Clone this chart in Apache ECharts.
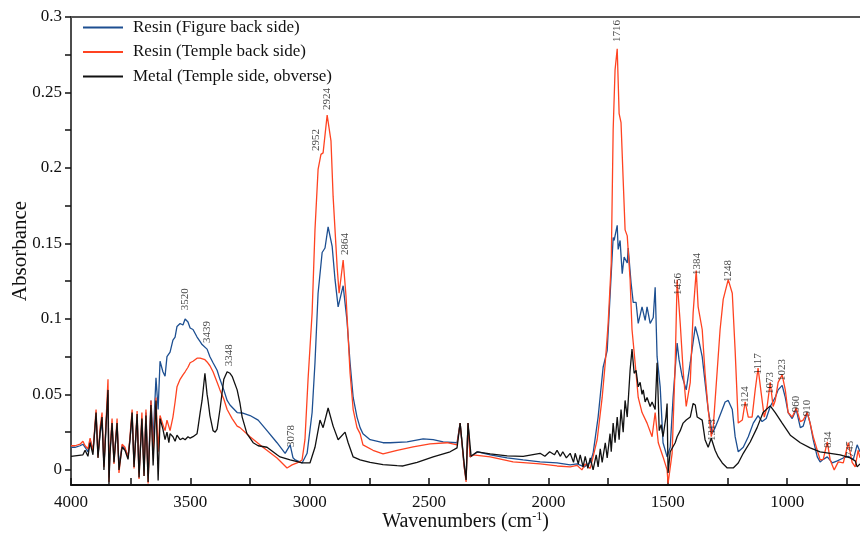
<!DOCTYPE html>
<html>
<head>
<meta charset="utf-8">
<script src="https://cdn.jsdelivr.net/npm/echarts@6/dist/echarts.min.js"></script>
<style>
  html, body { margin: 0; padding: 0; background: #fff; }
  #chart { width: 860px; height: 539px; }
</style>
</head>
<body>
<div id="chart"></div>
<script>
// series names (legend order)
var seriesNames = ['Resin (Figure back side)', 'Resin (Temple back side)', 'Metal (Temple side, obverse)'];

// [wavenumber, absorbance]
var resinFigure = [
  [4000,0.015],[3983,0.015],[3962,0.016],[3950,0.017],[3941,0.015],[3929,0.012],[3920,0.020],[3908,0.013],
  [3895,0.036],[3887,0.010],[3878,0.024],[3870,0.033],[3862,0.003],[3853,0.030],[3845,0.050],[3841,-0.005],
  [3837,0.012],[3828,0.030],[3820,0.007],[3807,0.030],[3799,0.003],[3786,0.016],[3774,0.014],[3761,0.009],
  [3753,0.020],[3744,0.036],[3736,0.004],[3723,0.035],[3715,-0.002],[3703,0.033],[3694,0.000],[3686,0.038],
  [3677,-0.004],[3665,0.046],[3656,0.020],[3644,0.061],[3635,0.040],[3627,0.072],[3615,0.065],[3606,0.062],
  [3598,0.075],[3585,0.078],[3573,0.086],[3564,0.088],[3556,0.095],[3543,0.097],[3531,0.096],[3522,0.100],
  [3510,0.098],[3501,0.094],[3489,0.093],[3472,0.088],[3459,0.085],[3451,0.083],[3430,0.080],[3418,0.075],
  [3405,0.071],[3388,0.066],[3376,0.060],[3360,0.053],[3346,0.046],[3334,0.043],[3304,0.038],[3283,0.0377],
  [3250,0.036],[3216,0.033],[3179,0.026],[3137,0.018],[3103,0.011],[3082,0.0166],[3070,0.008],[3061,0.0066],
  [3032,0.0046],[3011,0.011],[2990,0.038],[2978,0.071],[2965,0.117],[2948,0.144],[2936,0.147],[2923,0.161],
  [2906,0.148],[2894,0.126],[2881,0.108],[2860,0.122],[2844,0.099],[2831,0.071],[2818,0.048],[2802,0.035],
  [2789,0.028],[2777,0.024],[2747,0.020],[2693,0.018],[2663,0.018],[2592,0.0185],[2525,0.0205],[2483,0.020],
  [2441,0.0185],[2383,0.018],[2370,0.031],[2353,0.002],[2345,-0.006],[2337,0.031],[2328,0.0086],[2316,0.0099],
  [2295,0.012],[2244,0.0099],[2173,0.0079],[2106,0.0066],[2035,0.0053],[1964,0.0046],[1909,0.0033],[1880,0.004],
  [1850,0.002],[1825,0.005],[1813,0.011],[1792,0.035],[1771,0.068],[1754,0.079],[1742,0.115],[1729,0.154],
  [1725,0.152],[1712,0.162],[1708,0.146],[1700,0.152],[1691,0.130],[1683,0.141],[1670,0.137],[1666,0.147],
  [1654,0.124],[1645,0.111],[1633,0.111],[1624,0.097],[1608,0.108],[1595,0.099],[1587,0.108],[1574,0.097],
  [1561,0.101],[1553,0.121],[1545,0.075],[1532,0.055],[1520,0.018],[1503,0.0086],[1490,0.015],[1478,0.048],
  [1461,0.084],[1453,0.073],[1440,0.062],[1423,0.053],[1406,0.071],[1385,0.095],[1373,0.088],[1356,0.075],
  [1344,0.058],[1331,0.040],[1314,0.024],[1302,0.028],[1289,0.033],[1272,0.040],[1260,0.045],[1247,0.046],
  [1230,0.040],[1218,0.022],[1205,0.012],[1184,0.015],[1163,0.022],[1142,0.031],[1122,0.036],[1105,0.032],
  [1088,0.034],[1071,0.042],[1050,0.048],[1038,0.053],[1021,0.056],[1008,0.048],[996,0.038],[979,0.034],
  [962,0.040],[945,0.028],[933,0.029],[916,0.038],[904,0.031],[891,0.020],[874,0.0086],[862,0.0053],
  [849,0.007],[832,0.0086],[811,0.0046],[790,0.006],[765,0.0079],[744,0.009],[723,0.007],[707,0.0166],[695,0.012]
];

var resinTemple = [
  [4000,0.016],[3983,0.016],[3962,0.017],[3950,0.019],[3941,0.016],[3929,0.014],[3920,0.021],[3908,0.012],
  [3895,0.040],[3887,0.008],[3878,0.028],[3870,0.038],[3862,0.002],[3853,0.033],[3845,0.060],[3841,-0.008],
  [3837,0.012],[3828,0.034],[3820,0.004],[3807,0.034],[3799,-0.002],[3786,0.017],[3774,0.015],[3761,0.008],
  [3753,0.022],[3744,0.040],[3736,0.001],[3723,0.039],[3715,-0.006],[3703,0.038],[3694,-0.004],[3686,0.040],
  [3677,-0.009],[3665,0.046],[3656,0.010],[3644,0.048],[3635,0.012],[3627,0.036],[3615,0.030],[3606,0.026],
  [3598,0.033],[3585,0.026],[3573,0.035],[3564,0.045],[3556,0.055],[3543,0.060],[3531,0.063],[3522,0.065],
  [3510,0.068],[3501,0.071],[3489,0.072],[3472,0.074],[3459,0.074],[3451,0.074],[3439,0.073],[3430,0.0715],
  [3418,0.069],[3405,0.065],[3388,0.058],[3376,0.053],[3360,0.047],[3346,0.040],[3325,0.034],[3304,0.029],
  [3292,0.028],[3250,0.022],[3196,0.015],[3137,0.0079],[3095,0.0013],[3074,0.0033],[3053,0.0046],[3032,0.0066],
  [3020,0.020],[3007,0.060],[2990,0.104],[2978,0.159],[2965,0.199],[2953,0.209],[2944,0.210],[2927,0.235],
  [2911,0.218],[2902,0.181],[2885,0.134],[2877,0.117],[2860,0.139],[2848,0.115],[2831,0.064],[2818,0.040],
  [2802,0.028],[2789,0.024],[2777,0.0166],[2735,0.013],[2693,0.0106],[2634,0.013],[2567,0.0152],[2496,0.0172],
  [2425,0.018],[2383,0.0166],[2370,0.031],[2353,0.002],[2345,-0.008],[2337,0.031],[2328,0.0086],[2316,0.0099],
  [2244,0.0086],[2148,0.0053],[2035,0.004],[1964,0.0026],[1909,0.002],[1880,0.003],[1860,0.000],[1846,0.004],
  [1825,0.001],[1813,0.0086],[1796,0.020],[1775,0.048],[1762,0.071],[1750,0.097],[1737,0.137],[1729,0.225],
  [1721,0.265],[1712,0.279],[1704,0.236],[1696,0.230],[1687,0.192],[1679,0.159],[1670,0.155],[1658,0.126],
  [1650,0.093],[1637,0.071],[1624,0.048],[1608,0.038],[1587,0.031],[1566,0.022],[1553,0.038],[1540,0.018],
  [1520,0.0086],[1503,0.000],[1499,-0.009],[1482,0.011],[1469,0.071],[1461,0.126],[1448,0.097],[1436,0.066],
  [1423,0.042],[1406,0.058],[1394,0.104],[1381,0.132],[1373,0.108],[1356,0.093],[1344,0.064],[1331,0.040],
  [1318,0.022],[1310,0.028],[1293,0.066],[1281,0.093],[1268,0.113],[1247,0.126],[1230,0.117],[1218,0.079],
  [1205,0.031],[1188,0.033],[1176,0.045],[1163,0.035],[1147,0.035],[1134,0.053],[1122,0.0675],[1109,0.051],
  [1096,0.035],[1084,0.042],[1071,0.058],[1059,0.042],[1050,0.046],[1038,0.058],[1021,0.063],[1008,0.053],
  [996,0.038],[979,0.035],[962,0.041],[945,0.032],[933,0.033],[916,0.038],[904,0.031],[891,0.022],
  [874,0.013],[862,0.0066],[849,0.007],[832,0.0185],[820,0.0066],[803,0.000],[786,0.0053],[765,0.0046],
  [744,0.018],[728,0.005],[715,0.002],[703,0.013],[695,0.008]
];

var metalTemple = [
  [4000,0.009],[3975,0.0095],[3950,0.010],[3941,0.013],[3929,0.009],[3920,0.018],[3908,0.010],[3895,0.038],
  [3887,0.008],[3878,0.025],[3870,0.035],[3862,0.000],[3853,0.030],[3845,0.053],[3841,-0.010],[3837,0.010],
  [3828,0.031],[3820,0.005],[3807,0.031],[3799,0.000],[3786,0.015],[3774,0.013],[3761,0.007],[3753,0.020],
  [3744,0.038],[3736,0.002],[3723,0.037],[3715,-0.005],[3703,0.034],[3694,-0.004],[3686,0.036],[3677,-0.008],
  [3665,0.043],[3656,0.003],[3644,0.046],[3635,-0.007],[3627,0.034],[3615,0.027],[3606,0.020],[3598,0.025],
  [3590,0.018],[3585,0.024],[3573,0.022],[3564,0.019],[3556,0.023],[3543,0.020],[3531,0.021],[3522,0.020],
  [3510,0.022],[3501,0.021],[3489,0.022],[3472,0.024],[3468,0.028],[3459,0.038],[3451,0.046],[3439,0.064],
  [3430,0.050],[3426,0.046],[3418,0.036],[3405,0.026],[3396,0.025],[3388,0.027],[3376,0.040],[3360,0.060],
  [3346,0.065],[3334,0.064],[3325,0.062],[3304,0.053],[3292,0.044],[3283,0.035],[3263,0.024],[3237,0.018],
  [3216,0.016],[3179,0.015],[3137,0.010],[3124,0.0086],[3082,0.0066],[3032,0.0046],[2999,0.0046],[2978,0.015],
  [2957,0.033],[2944,0.028],[2923,0.041],[2902,0.029],[2881,0.020],[2852,0.025],[2839,0.018],[2818,0.0086],
  [2789,0.0066],[2747,0.005],[2693,0.0035],[2634,0.0028],[2609,0.0026],[2550,0.005],[2483,0.0086],[2412,0.012],
  [2383,0.0146],[2370,0.031],[2353,0.004],[2345,-0.0066],[2337,0.031],[2324,0.009],[2299,0.012],[2244,0.0106],
  [2173,0.0093],[2106,0.009],[2035,0.011],[2015,0.009],[1995,0.012],[1975,0.010],[1964,0.013],[1950,0.009],
  [1940,0.012],[1925,0.008],[1909,0.011],[1895,0.005],[1888,0.011],[1875,0.004],[1867,0.010],[1855,0.002],
  [1846,0.009],[1835,0.001],[1825,0.008],[1813,0.000],[1800,0.010],[1792,0.002],[1783,0.014],[1775,0.005],
  [1762,0.018],[1754,0.008],[1742,0.024],[1737,0.012],[1729,0.031],[1721,0.018],[1712,0.035],[1704,0.020],
  [1696,0.040],[1687,0.025],[1679,0.046],[1670,0.035],[1658,0.066],[1650,0.080],[1641,0.064],[1633,0.066],
  [1624,0.055],[1616,0.058],[1608,0.050],[1603,0.053],[1595,0.045],[1587,0.048],[1574,0.042],[1566,0.045],
  [1553,0.040],[1545,0.071],[1536,0.026],[1528,0.030],[1520,0.022],[1508,0.035],[1503,0.044],[1499,-0.002],
  [1490,0.012],[1482,0.013],[1469,0.018],[1461,0.022],[1448,0.026],[1436,0.031],[1423,0.033],[1406,0.035],
  [1394,0.044],[1385,0.043],[1377,0.035],[1356,0.033],[1344,0.020],[1331,0.015],[1318,0.021],[1302,0.013],
  [1289,0.0086],[1272,0.0046],[1251,0.0013],[1226,0.0013],[1205,0.0046],[1184,0.011],[1155,0.0185],[1126,0.028],
  [1101,0.038],[1071,0.0424],[1050,0.038],[1021,0.031],[987,0.023],[945,0.018],[904,0.0146],[862,0.012],
  [820,0.011],[778,0.0099],[736,0.0079],[715,0.006],[707,0.002],[695,0.004]
];

// peak annotations: [wavenumber, absorbance where the text sits, text]
var peakLabels = [
  [3522,0.113,'3520'],[3430,0.0914,'3439'],[3338,0.076,'3348'],[3078,0.0225,'3078'],
  [2974,0.2185,'2952'],[2927,0.2457,'2924'],[2852,0.1497,'2864'],[1712,0.2907,'1716'],
  [1457,0.1232,'1456'],[1377,0.1364,'1384'],[1247,0.1318,'1248'],[1314,0.0265,'1313'],
  [1176,0.0483,'1124'],[1122,0.0702,'1117'],[1071,0.0576,'1073'],[1021,0.0662,'1023'],
  [962,0.0437,'960'],[916,0.041,'910'],[828,0.0199,'834'],[736,0.0139,'745']
];

var xTicks = [4000,3750,3500,3250,3000,2750,2500,2250,2000,1750,1500,1250,1000,750];
var xLabels = [4000,3500,3000,2500,2000,1500,1000];
var yTicks = [0,0.025,0.05,0.075,0.1,0.125,0.15,0.175,0.2,0.225,0.25,0.275,0.3];
var yLabels = [0,0.05,0.1,0.15,0.2,0.25,0.3];

var colors = ['#1d4f91', '#ff4321', '#111111'];
var serif = 'Liberation Serif';

var chart = echarts.init(document.getElementById('chart'), null, { renderer: 'canvas' });

function lineSeries(name, data, color) {
  return {
    name: name,
    type: 'line',
    data: data,
    showSymbol: false,
    symbol: 'none',
    silent: true,
    animation: false,
    lineStyle: { color: color, width: 1.3 },
    itemStyle: { color: color }
  };
}

var option = {
  backgroundColor: '#fff',
  animation: false,
  grid: { left: 71, right: 0, top: 17, bottom: 54, containLabel: false, outerBoundsMode: 'none' },
  legend: {
    orient: 'vertical',
    left: 78,
    top: 14,
    itemWidth: 40,
    itemHeight: 2,
    itemGap: 7.5,
    icon: 'rect',
    data: seriesNames,
    textStyle: { fontFamily: serif, fontSize: 17, color: '#111', padding: [0, 0, 0, 5] }
  },
  xAxis: [{
    type: 'value',
    inverse: true,
    min: 695,
    max: 4000,
    name: '{n|Wavenumbers (cm}{s|-1}{n|)}',
    nameLocation: 'middle',
    nameGap: 26,
    nameMoveOverlap: false,
    nameTextStyle: {
      rich: {
        n: { fontFamily: serif, fontSize: 20, color: '#111' },
        s: { fontFamily: serif, fontSize: 12, color: '#111', verticalAlign: 'bottom', padding: [0, 0, 10, 0] }
      }
    },
    axisLine: { onZero: false, lineStyle: { color: '#111', width: 2 } },
    axisTick: { inside: true, length: 7, customValues: xTicks, lineStyle: { color: '#111', width: 1.5 } },
    axisLabel: {
      customValues: xLabels, fontFamily: serif, fontSize: 17, color: '#111', margin: 9,
      formatter: function (v) { return String(v); }
    },
    splitLine: { show: false }
  }, {
    type: 'value',
    inverse: true,
    min: 695,
    max: 4000,
    position: 'top',
    axisLine: { show: true, onZero: false, lineStyle: { color: '#555', width: 2 } },
    axisTick: { show: false },
    axisLabel: { show: false },
    splitLine: { show: false }
  }],
  yAxis: {
    type: 'value',
    min: -0.01,
    max: 0.3,
    name: 'Absorbance',
    nameLocation: 'middle',
    nameGap: 40,
    nameMoveOverlap: false,
    nameTextStyle: { fontFamily: serif, fontSize: 21, color: '#111' },
    axisLine: { show: true, onZero: false, lineStyle: { color: '#111', width: 1.5 } },
    axisTick: { show: true, length: 6, customValues: yTicks, lineStyle: { color: '#111', width: 1.5 } },
    axisLabel: { customValues: yLabels, fontFamily: serif, fontSize: 17, color: '#111', margin: 9 },
    splitLine: { show: false }
  },
  series: [
    lineSeries(seriesNames[0], resinFigure, colors[0]),
    lineSeries(seriesNames[1], resinTemple, colors[1]),
    lineSeries(seriesNames[2], metalTemple, colors[2]),
    {
      name: 'peaks',
      type: 'scatter',
      data: peakLabels,
      symbolSize: 0,
      silent: true,
      animation: false,
      z: 5,
      label: {
        show: true,
        position: 'inside',
        rotate: 90,
        fontFamily: serif,
        fontSize: 11,
        color: '#111',
        formatter: function (p) { return p.value[2]; }
      }
    }
  ]
};

chart.setOption(option);
</script>
</body>
</html>
